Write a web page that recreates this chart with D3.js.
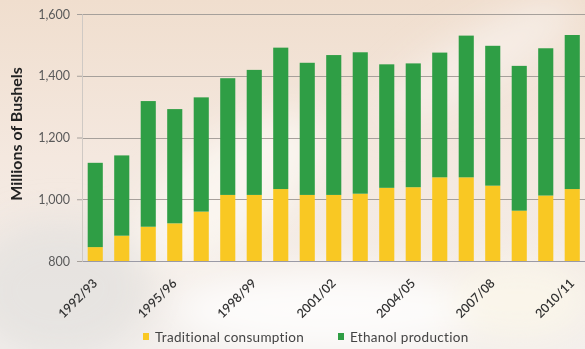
<!DOCTYPE html>
<html>
<head>
<meta charset="utf-8">
<script src="https://cdn.jsdelivr.net/npm/d3@7"></script>
<style>
  html, body { margin: 0; padding: 0; background: #f3e9e1; }
  svg { display: block; }
</style>
</head>
<body>
<svg id="chart" width="585" height="349"></svg>
<script>
// Marketing years (every third one is labelled on the axis)
const years = ["1992/93","1993/94","1994/95","1995/96","1996/97","1997/98","1998/99",
  "1999/00","2000/01","2001/02","2002/03","2003/04","2004/05","2005/06","2006/07",
  "2007/08","2008/09","2009/10","2010/11"];
// Traditional consumption, millions of bushels
const traditional = [845,882,911,922,960,1014,1014,1033,1014,1014,1018,1037,1039,1071,1071,1044,963,1012,1033];
// Total use; ethanol production is the part stacked above traditional use
const totals = [1118,1142,1318,1292,1330,1392,1419,1491,1442,1467,1476,1437,1440,1475,1530,1497,1432,1489,1532];
const ethanol = totals.map((t, i) => t - traditional[i]);
const yTicks = [800, 1000, 1200, 1400, 1600];
const xLabels = ["1992/93","1995/96","1998/99","2001/02","2004/05","2007/08","2010/11"];
const seriesNames = ["Traditional consumption", "Ethanol production"];
const seriesColors = ["#f9c823", "#2f9e45"];

const W = 585, H = 349;
const plotLeft = 82, plotRight = 585.5, plotTop = 14, plotBottom = 261;
const svg = d3.select("#chart");

// ---- backdrop: warm photo-like wash ----
const defs = svg.append("defs");
const bg = defs.append("linearGradient").attr("id", "bg").attr("x1", 0).attr("y1", 0).attr("x2", 0).attr("y2", 1);
bg.append("stop").attr("offset", "0%").attr("stop-color", "#f0dece");
bg.append("stop").attr("offset", "45%").attr("stop-color", "#f4e8df");
bg.append("stop").attr("offset", "100%").attr("stop-color", "#f3efec");
const blur = defs.append("filter").attr("id", "soft").attr("x", "-50%").attr("y", "-50%").attr("width", "200%").attr("height", "200%");
blur.append("feGaussianBlur").attr("stdDeviation", 18);

svg.append("rect").attr("width", W).attr("height", H).attr("fill", "url(#bg)");
const haze = svg.append("g").attr("filter", "url(#soft)");
haze.append("ellipse").attr("cx", 60).attr("cy", 290).attr("rx", 90).attr("ry", 70).attr("fill", "#e4e1df").attr("opacity", 0.8);
haze.append("ellipse").attr("cx", 330).attr("cy", 310).attr("rx", 160).attr("ry", 40).attr("fill", "#ffffff").attr("opacity", 0.8);
haze.append("ellipse").attr("cx", 230).attr("cy", 190).attr("rx", 110).attr("ry", 50).attr("fill", "#fbf7f3").attr("opacity", 0.8)
  .attr("transform", "rotate(-35 230 190)");
haze.append("ellipse").attr("cx", 480).attr("cy", 60).attr("rx", 110).attr("ry", 30).attr("fill", "#f8f2ee").attr("opacity", 0.7)
  .attr("transform", "rotate(-30 480 60)");
haze.append("ellipse").attr("cx", 520).attr("cy", 300).attr("rx", 70).attr("ry", 40).attr("fill", "#fbf6ea").attr("opacity", 0.9);

// ---- scales (clamped so the stack base sits on the 800 axis) ----
const x = d3.scaleBand().domain(years).range([plotLeft, plotRight]).paddingInner(0.43).paddingOuter(0.215);
const y = d3.scaleLinear().domain([800, 1600]).range([plotBottom, plotTop]).clamp(true);

// gridlines
svg.append("g").selectAll("line").data(yTicks).join("line")
  .attr("x1", plotLeft).attr("x2", W)
  .attr("y1", d => Math.round(y(d)) + 0.5).attr("y2", d => Math.round(y(d)) + 0.5)
  .attr("stroke", d => d === 800 ? "#9a9aa6" : "#a6a09b").attr("stroke-width", 1.2);

// left axis: short outward ticks and labels
const yAxis = svg.append("g").attr("transform", `translate(${plotLeft},0)`)
  .call(d3.axisLeft(y).tickValues(yTicks).tickSize(5).tickPadding(7).tickFormat(d3.format(",")));
yAxis.select(".domain").attr("stroke", "#cfc9c4");
yAxis.selectAll(".tick line").attr("stroke", "#a6a09b");
yAxis.selectAll(".tick text").attr("font-family", "Lato, 'Open Sans', sans-serif")
  .attr("font-size", 12.5).attr("fill", "#5a5a5a");

// stacked bars
const stacked = d3.stack().keys([0, 1]).value((d, k) => d[k])(years.map((yr, i) => [traditional[i], ethanol[i]]));
svg.append("g").selectAll("g").data(stacked).join("g")
  .attr("fill", (d, i) => seriesColors[i])
  .selectAll("rect").data(d => d).join("rect")
  .attr("x", (d, i) => x(years[i]))
  .attr("width", x.bandwidth())
  .attr("y", d => y(d[1]))
  .attr("height", d => y(d[0]) - y(d[1]));

// x labels, rotated
svg.append("g").selectAll("text").data(xLabels).join("text")
  .attr("transform", d => `translate(${x(d) + x.bandwidth() / 2 + 3},${plotBottom + 23}) rotate(-45)`)
  .attr("text-anchor", "end")
  .attr("font-family", "Lato, 'Open Sans', sans-serif")
  .attr("font-size", 12.5).attr("font-weight", 600).attr("fill", "#333")
  .text(d => d);

// y title
svg.append("text")
  .attr("transform", `translate(22,134) rotate(-90)`)
  .attr("text-anchor", "middle")
  .attr("font-family", "Lato, 'Open Sans', sans-serif")
  .attr("font-weight", "bold").attr("font-size", 16).attr("fill", "#222")
  .text("Millions of Bushels");

// legend
const legendX = [143, 338];
const legend = svg.append("g").selectAll("g").data(seriesNames).join("g")
  .attr("transform", (d, i) => `translate(${legendX[i]},333)`);
legend.append("rect").attr("width", 6).attr("height", 7).attr("fill", (d, i) => seriesColors[i]);
legend.append("text").attr("x", 12).attr("y", 9)
  .attr("font-family", "Lato, 'Open Sans', sans-serif")
  .attr("font-size", 13.5).attr("letter-spacing", 0.3).attr("fill", "#444")
  .text(d => d);
</script>
</body>
</html>
